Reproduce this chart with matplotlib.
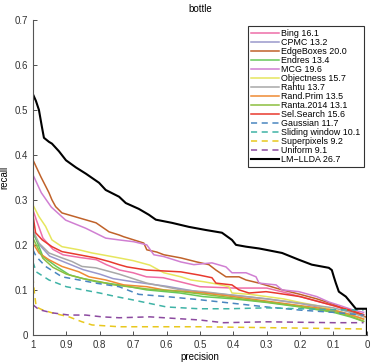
import numpy as np
import matplotlib
matplotlib.use("Agg")
import matplotlib.pyplot as plt
from matplotlib.ticker import FormatStrFormatter

plt.rcParams['font.family'] = ['Liberation Sans', 'DejaVu Sans']

# ---- recall vs precision curves (class: bottle) ----
bing_p = [1, .99, .97, .94, .91, .86, .81, .78, .74, .70, .66, .61, .56, .50, .40, .30, .25, .20, .15, .10, .05, .01]
bing_r = [.278, .256, .215, .19, .178, .172, .167, .156, .144, .138, .129, .127, .118, .107, .104, .104, .095, .085, .075, .065, .052, .045]

cpmc_p = [1, .98, .95, .90, .85, .80, .76, .70, .60, .50, .40, .30, .20, .10, .05, .01]
cpmc_r = [.225, .20, .175, .16, .145, .135, .125, .118, .108, .095, .088, .08, .07, .055, .045, .035]

edge_p = [1, .976, .952, .943, .932, .913, .862, .811, .772, .742, .728, .698, .668, .659, .629, .608, .557,
          .509, .473, .452, .422, .383, .362, .323, .30, .254, .20, .15, .10, .06, .02, .005]
edge_r = [.389, .351, .316, .30, .285, .271, .26, .249, .229, .222, .218, .211, .204, .189, .184, .178, .171,
          .162, .156, .144, .129, .129, .122, .115, .11, .10, .09, .08, .068, .055, .045, .04]

endres_p = [1, .97, .93, .89, .86, .81, .74, .66, .56, .49, .40, .30, .20, .10, .05, .01]
endres_r = [.23, .174, .152, .133, .127, .118, .111, .10, .093, .085, .08, .072, .062, .05, .04, .03]

mcg_p = [1, .975, .945, .902, .842, .812, .782, .742, .698, .659, .638, .608, .557, .518, .464, .422, .404,
         .362, .332, .323, .272, .254, .204, .15, .114, .08, .04, .01]
mcg_r = [.356, .316, .284, .255, .237, .226, .215, .211, .207, .20, .178, .174, .162, .156, .16, .151, .138,
         .138, .129, .115, .111, .10, .096, .085, .073, .065, .055, .05]

obj_p = [1, .982, .962, .943, .913, .862, .823, .793, .742, .70, .65, .608, .557, .527, .488, .45, .413, .404,
         .35, .30, .25, .20, .15, .10, .05, .01]
obj_r = [.289, .263, .241, .211, .196, .189, .182, .178, .171, .165, .155, .138, .129, .122, .118, .113, .107, .093,
         .09, .085, .08, .072, .065, .055, .045, .035]

rahtu_p = [1, .982, .952, .913, .883, .853, .812, .742, .659, .557, .488, .40, .30, .20, .10, .05, .01]
rahtu_r = [.233, .204, .182, .171, .163, .152, .149, .135, .115, .10, .096, .088, .08, .07, .06, .05, .04]

rprim_p = [1, .982, .952, .913, .862, .832, .782, .728, .659, .608, .488, .40, .30, .20, .10, .05, .01]
rprim_r = [.204, .182, .167, .152, .14, .129, .122, .111, .107, .10, .093, .085, .075, .065, .055, .045, .035]

ranta_p = [1, .97, .94, .90, .85, .80, .757, .659, .557, .488, .40, .30, .20, .10, .05, .01]
ranta_r = [.215, .17, .15, .135, .125, .118, .111, .102, .096, .09, .082, .073, .063, .052, .042, .03]

sel_p = [1, .992, .972, .943, .913, .862, .812, .772, .742, .718, .659, .557, .503, .464, .452, .404, .383,
         .353, .302, .272, .20, .15, .10, .05, .01]
sel_r = [.267, .227, .211, .196, .185, .178, .171, .163, .156, .151, .144, .14, .133, .127, .115, .111, .10,
         .093, .096, .093, .085, .075, .065, .055, .045]

gauss_p = [1, .99, .962, .913, .862, .812, .742, .683, .60, .50, .40, .30, .20, .10, .01]
gauss_r = [.189, .174, .152, .129, .122, .115, .107, .09, .085, .078, .07, .062, .055, .05, .044]

slide_p = [1, .99, .952, .90, .80, .751, .703, .60, .503, .413, .30, .20, .10, .01]
slide_r = [.162, .14, .122, .107, .093, .085, .078, .062, .058, .058, .06, .058, .056, .055]

spix_p = [1, .995, .99, .973, .943, .892, .853, .823, .742, .50, .30, .10, .01]
spix_r = [.129, .09, .062, .056, .049, .04, .029, .022, .018, .018, .016, .014, .013]

unif_p = [1, .982, .943, .892, .842, .793, .742, .65, .50, .43, .30, .10, .01]
unif_r = [.067, .056, .049, .044, .044, .04, .038, .04, .033, .027, .029, .027, .027]

lmllda_p = [1, .991, .982, .973, .967, .952, .943, .922, .901, .871, .841, .802, .782, .742, .722, .683, .653,
            .632, .584, .533, .482, .434, .404, .392, .362, .323, .302, .254, .204, .165, .114, .105, .099,
            .093, .084, .063, .033, 0, 0]
lmllda_r = [.535, .52, .50, .462, .438, .429, .425, .408, .388, .372, .358, .338, .322, .307, .293, .28, .267,
            .256, .249, .24, .233, .227, .211, .20, .196, .192, .189, .182, .167, .156, .149, .144, .129,
            .115, .096, .085, .058, .058, 0]

labels = ['Bing 16.1', 'CPMC 13.2', 'EdgeBoxes 20.0', 'Endres 13.4', 'MCG 19.6', 'Objectness 15.7',
          'Rahtu 13.7', 'Rand.Prim 13.5', 'Ranta.2014 13.1', 'Sel.Search 15.6', 'Gaussian 11.7',
          'Sliding window 10.1', 'Superpixels 9.2', 'Uniform 9.1', 'LM\u2212LLDA 26.7']
curves = [(bing_p, bing_r), (cpmc_p, cpmc_r), (edge_p, edge_r), (endres_p, endres_r), (mcg_p, mcg_r),
          (obj_p, obj_r), (rahtu_p, rahtu_r), (rprim_p, rprim_r), (ranta_p, ranta_r), (sel_p, sel_r),
          (gauss_p, gauss_r), (slide_p, slide_r), (spix_p, spix_r), (unif_p, unif_r), (lmllda_p, lmllda_r)]
colors = ['#ee6ea8', '#9a98cc', '#c0622a', '#66c95a', '#d07fd2', '#e6e65e', '#a8a8a8', '#ef8a33',
          '#8cbf3f', '#e8392e', '#4a86c0', '#3fb3a6', '#e8c81e', '#8c4aa0', 'black']
styles = ['-'] * 10 + ['--'] * 4 + ['-']

fig = plt.figure(figsize=(3.74, 3.62), dpi=100)
ax = fig.add_axes([0.088, 0.075, 0.893, 0.870])

for (p, r), lab, c, ls in zip(curves, labels, colors, styles):
    lw = 1.5 if c == 'black' else 1.1
    kw = dict(dashes=(4, 3)) if ls == '--' else {}
    ax.plot(p, r, ls, color=c, lw=lw, label=lab, **kw)

ax.set_xlim(1, 0)
ax.set_ylim(0, 0.7)
ax.set_xticks(np.arange(0, 1.01, 0.1))
ax.set_yticks(np.arange(0, 0.71, 0.1))
ax.xaxis.set_major_formatter(FormatStrFormatter('%g'))
ax.yaxis.set_major_formatter(FormatStrFormatter('%g'))
ax.tick_params(direction='in', labelsize=7, length=3, width=0.6, colors='#333333')
for s in ['top', 'right']:
    ax.spines[s].set_visible(False)
for s in ['left', 'bottom']:
    ax.spines[s].set_linewidth(0.8)
    ax.spines[s].set_color('#555555')

ax.set_title('bottle', fontsize=7, pad=6)
ax.set_xlabel('precision', fontsize=7, labelpad=2)
ax.set_ylabel('recall', fontsize=7, labelpad=4)

leg = ax.legend(loc='upper right', bbox_to_anchor=(0.99, 0.98), fontsize=6.4, frameon=True, fancybox=False,
                labelspacing=0.0, handlelength=3.1, handletextpad=0.3, borderpad=0.35, borderaxespad=0)
leg.get_frame().set_edgecolor('black')
leg.get_frame().set_linewidth(0.8)

fig.savefig('out.png', dpi=100)
